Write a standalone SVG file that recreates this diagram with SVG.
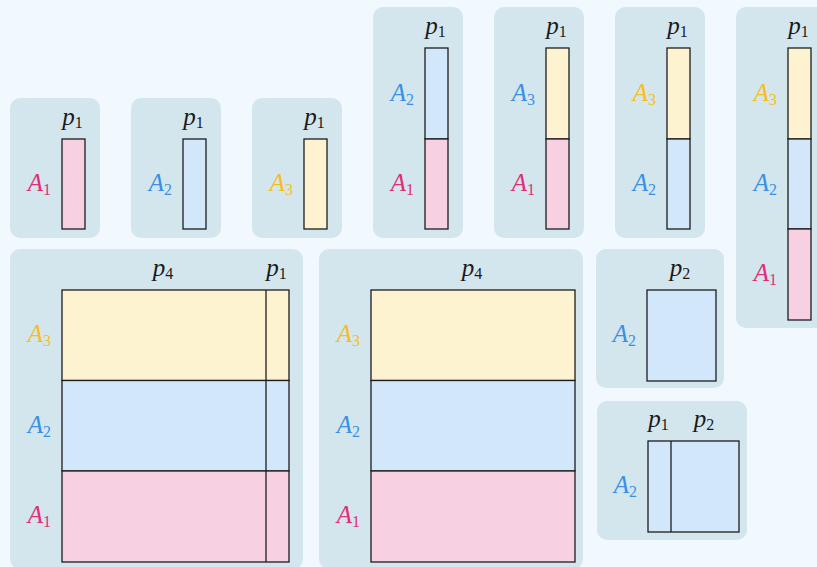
<svg xmlns="http://www.w3.org/2000/svg" width="817" height="567" viewBox="0 0 817 567" font-family="Liberation Serif, Times New Roman, serif">
<style>
.bg{fill:#f1f8fe}
.panel{fill:#d4e6ed}
.bar{stroke:#1c1c1c;stroke-width:1.3}
.c1{fill:#f7d1e1}
.c2{fill:#d2e7f9}
.c3{fill:#fef3d0}
.div{stroke:#1c1c1c;stroke-width:1.3;fill:none}
text{font-size:25px;font-style:italic}
.sub{font-size:16px;font-style:normal}
.p{fill:#1a1a1a;text-anchor:middle}
.l{text-anchor:end}
.k1{fill:#df2f78}
.k2{fill:#3a90e3}
.k3{fill:#f4be22}
</style>
<rect class="bg" x="0" y="0" width="817" height="567"/>
<g id="connectors"/>

<g id="n1">
<rect class="panel" x="10" y="98" width="90" height="140" rx="10"/>
<rect class="bar c1" x="62" y="139" width="23" height="90"/>
<text class="p" x="72.5" y="125">p<tspan class="sub" dy="3">1</tspan></text>
<text class="l k1" x="51" y="191">A<tspan class="sub" dy="4">1</tspan></text>
</g>

<g id="n2">
<rect class="panel" x="131" y="98" width="90" height="140" rx="10"/>
<rect class="bar c2" x="183" y="139" width="23" height="90"/>
<text class="p" x="193.5" y="125">p<tspan class="sub" dy="3">1</tspan></text>
<text class="l k2" x="172" y="191">A<tspan class="sub" dy="4">2</tspan></text>
</g>

<g id="n3">
<rect class="panel" x="252" y="98" width="90" height="140" rx="10"/>
<rect class="bar c3" x="304" y="139" width="23" height="90"/>
<text class="p" x="314.5" y="125">p<tspan class="sub" dy="3">1</tspan></text>
<text class="l k3" x="293" y="191">A<tspan class="sub" dy="4">3</tspan></text>
</g>

<g id="n4">
<rect class="panel" x="373" y="7" width="90" height="231" rx="10"/>
<rect class="bar c2" x="425" y="48" width="23" height="91"/>
<rect class="bar c1" x="425" y="139" width="23" height="90"/>
<text class="p" x="435.5" y="34">p<tspan class="sub" dy="3">1</tspan></text>
<text class="l k2" x="414" y="101">A<tspan class="sub" dy="4">2</tspan></text>
<text class="l k1" x="414" y="191">A<tspan class="sub" dy="4">1</tspan></text>
</g>

<g id="n5">
<rect class="panel" x="494" y="7" width="90" height="231" rx="10"/>
<rect class="bar c3" x="546" y="48" width="23" height="91"/>
<rect class="bar c1" x="546" y="139" width="23" height="90"/>
<text class="p" x="556.5" y="34">p<tspan class="sub" dy="3">1</tspan></text>
<text class="l k2" x="535" y="101">A<tspan class="sub" dy="4">3</tspan></text>
<text class="l k1" x="535" y="191">A<tspan class="sub" dy="4">1</tspan></text>
</g>

<g id="n6">
<rect class="panel" x="615" y="7" width="90" height="231" rx="10"/>
<rect class="bar c3" x="667" y="48" width="23" height="91"/>
<rect class="bar c2" x="667" y="139" width="23" height="90"/>
<text class="p" x="677.5" y="34">p<tspan class="sub" dy="3">1</tspan></text>
<text class="l k3" x="656" y="101">A<tspan class="sub" dy="4">3</tspan></text>
<text class="l k2" x="656" y="191">A<tspan class="sub" dy="4">2</tspan></text>
</g>

<g id="n7">
<rect class="panel" x="736" y="7" width="90" height="321" rx="10"/>
<rect class="bar c3" x="788" y="48" width="23" height="91"/>
<rect class="bar c2" x="788" y="139" width="23" height="90"/>
<rect class="bar c1" x="788" y="229" width="23" height="91"/>
<text class="p" x="798.5" y="34">p<tspan class="sub" dy="3">1</tspan></text>
<text class="l k3" x="777" y="101">A<tspan class="sub" dy="4">3</tspan></text>
<text class="l k2" x="777" y="191">A<tspan class="sub" dy="4">2</tspan></text>
<text class="l k1" x="777" y="281">A<tspan class="sub" dy="4">1</tspan></text>
</g>

<g id="n8">
<rect class="panel" x="10" y="249" width="293" height="320" rx="10"/>
<rect class="bar c3" x="62" y="290" width="227" height="90.5"/>
<rect class="bar c2" x="62" y="380.5" width="227" height="90.5"/>
<rect class="bar c1" x="62" y="471" width="227" height="91"/>
<line class="div" x1="266" y1="290" x2="266" y2="562"/>
<text class="p" x="163" y="276">p<tspan class="sub" dy="3">4</tspan></text>
<text class="p" x="276.5" y="276">p<tspan class="sub" dy="3">1</tspan></text>
<text class="l k3" x="51" y="342">A<tspan class="sub" dy="4">3</tspan></text>
<text class="l k2" x="51" y="433">A<tspan class="sub" dy="4">2</tspan></text>
<text class="l k1" x="51" y="523">A<tspan class="sub" dy="4">1</tspan></text>
</g>

<g id="n9">
<rect class="panel" x="319" y="249" width="264" height="320" rx="10"/>
<rect class="bar c3" x="371" y="290" width="204" height="90.5"/>
<rect class="bar c2" x="371" y="380.5" width="204" height="90.5"/>
<rect class="bar c1" x="371" y="471" width="204" height="91"/>
<text class="p" x="472" y="276">p<tspan class="sub" dy="3">4</tspan></text>
<text class="l k3" x="360" y="342">A<tspan class="sub" dy="4">3</tspan></text>
<text class="l k2" x="360" y="433">A<tspan class="sub" dy="4">2</tspan></text>
<text class="l k1" x="360" y="523">A<tspan class="sub" dy="4">1</tspan></text>
</g>

<g id="n10">
<rect class="panel" x="596" y="249" width="128" height="139" rx="10"/>
<rect class="bar c2" x="647" y="290" width="69" height="91"/>
<text class="p" x="680" y="276">p<tspan class="sub" dy="3">2</tspan></text>
<text class="l k2" x="636" y="342">A<tspan class="sub" dy="4">2</tspan></text>
</g>

<g id="n11">
<rect class="panel" x="597" y="401" width="150" height="139" rx="10"/>
<rect class="bar c2" x="648" y="441" width="91" height="91"/>
<line class="div" x1="671" y1="441" x2="671" y2="532"/>
<text class="p" x="658.5" y="427">p<tspan class="sub" dy="3">1</tspan></text>
<text class="p" x="704" y="427">p<tspan class="sub" dy="3">2</tspan></text>
<text class="l k2" x="637" y="493">A<tspan class="sub" dy="4">2</tspan></text>
</g>
</svg>
